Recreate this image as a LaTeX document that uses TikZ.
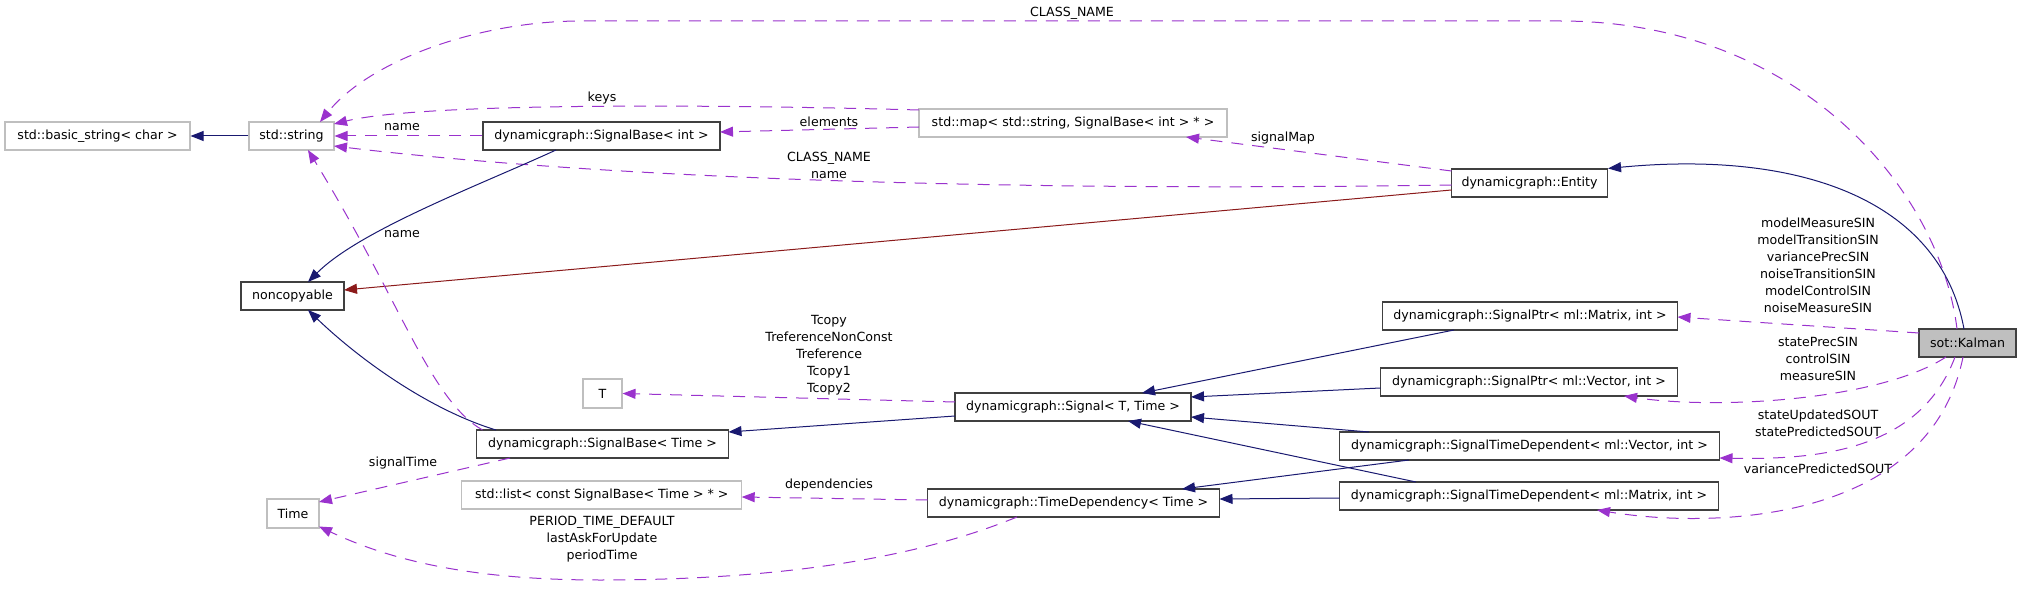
\documentclass[tikz,border=0pt]{standalone}
\usepackage{fontspec}
\setmainfont{DejaVu Sans}
\usetikzlibrary{arrows.meta,calc}
\definecolor{eblue}{HTML}{191970}
\definecolor{ered}{HTML}{8B1A1A}
\definecolor{epurp}{HTML}{9A32CD}
\definecolor{ugray}{HTML}{BFBFBF}
\definecolor{bdark}{HTML}{404040}
\begin{document}
\begin{tikzpicture}[x=1pt,y=-1pt,
  box/.style={draw=bdark,line width=1.1pt,minimum height=28pt,inner sep=0pt,font=\fontsize{12.6}{17}\selectfont},
  ubox/.style={box,draw=ugray},
  lbl/.style={font=\fontsize{12.6}{17}\selectfont,align=center,inner sep=0pt},
  tip/.style={-{Triangle[length=13pt,width=10pt]}},
  inh/.style={draw=eblue,line width=1pt,tip},
  priv/.style={draw=ered,line width=1pt,tip},
  use/.style={draw=epurp,line width=1pt,dash pattern=on 12pt off 9pt,tip}]
\useasboundingbox (0,0) rectangle (2021,609);
% nodes
\node[ubox,minimum width=185pt] (bstr) at (97.5,136) {std::basic\_string< char >};
\node[ubox,minimum width=85pt] (str) at (291.5,136) {std::string};
\node[box,minimum width=237pt] (sbi) at (601.5,136) {dynamicgraph::SignalBase< int >};
\node[ubox,minimum width=308pt] (map) at (1073,123) {std::map< std::string, SignalBase< int > * >};
\node[box,minimum width=156pt] (ent) at (1529.5,183) {dynamicgraph::Entity};
\node[box,minimum width=103pt] (nonc) at (292.5,296) {noncopyable};
\node[ubox,minimum width=39pt,minimum height=29pt] (T) at (602.5,393.5) {T};
\node[box,minimum width=252pt] (sbt) at (602.5,444) {dynamicgraph::SignalBase< Time >};
\node[box,minimum width=236pt] (sig) at (1073,407) {dynamicgraph::Signal< T, Time >};
\node[box,minimum width=295pt] (spm) at (1530,316) {dynamicgraph::SignalPtr< ml::Matrix, int >};
\node[box,minimum width=297pt] (spv) at (1529,382) {dynamicgraph::SignalPtr< ml::Vector, int >};
\node[box,minimum width=380pt] (stdv) at (1529.5,446) {dynamicgraph::SignalTimeDependent< ml::Vector, int >};
\node[box,minimum width=379pt] (stdm) at (1529,496) {dynamicgraph::SignalTimeDependent< ml::Matrix, int >};
\node[ubox,minimum width=280pt] (list) at (601.7,495) {std::list< const SignalBase< Time > * >};
\node[ubox,minimum width=52pt,minimum height=29pt] (time) at (293,513.5) {Time};
\node[box,minimum width=292pt] (td) at (1073.5,503) {dynamicgraph::TimeDependency< Time >};
\node[box,minimum width=97pt,fill=ugray] (kal) at (1967.5,343) {sot::Kalman};
% edges
\draw[inh] (str.west) -- (bstr.east);
\draw[use] ($(kal)+(-10.5,-14)$) .. controls (1940,190) and (1800,21) .. (1560,21) -- (581,21) .. controls (480,21) and (370,60) .. ($(str)+(28.5,-14)$);
\node[lbl] (l1) at (1072,13) {CLASS\_NAME};
\draw[use] (sbi.west) -- (str.east);
\node[lbl] (l2) at (402,127) {name};
\draw[use] ($(map)+(-154,-13)$) .. controls (700,104) and (420,103) .. ($(str)+(42.5,-12)$);
\node[lbl] (l3) at (602,98) {keys};
\draw[use] ($(map)+(-154,4)$) -- ($(sbi)+(118.5,-4)$);
\node[lbl] (l4) at (829,122) {elements};
\draw[use] ($(ent)+(-78,2)$) .. controls (1000,192) and (600,178) .. ($(str)+(42.5,10)$);
\node[lbl] (l5) at (829,165.5) {CLASS\_NAME\\name};
\draw[use] ($(ent)+(-78,-12)$) -- ($(map)+(113,14)$);
\node[lbl] (l6) at (1283,138) {signalMap};
\draw[priv] ($(ent)+(-78,7)$) -- ($(nonc)+(51.5,-6)$);
\draw[inh] ($(sbi)+(-45.5,14)$) .. controls (480,185) and (360,230) .. ($(nonc)+(15.5,-14)$);
\draw[inh] ($(sbt)+(-106.5,-14)$) .. controls (430,410) and (360,360) .. ($(nonc)+(15.5,14)$);
\draw[use] ($(sbt)+(-120,-14)$) .. controls (430,400) and (400,300) .. ($(str)+(16.5,14)$);
\node[lbl] (l7) at (402,234) {name};
\draw[use] ($(sbt)+(-92.5,14)$) -- ($(time)+(26,-11.5)$);
\node[lbl] (l8) at (403,463) {signalTime};
\draw[use] ($(td)+(-56.5,14)$) .. controls (900,565) and (750,580) .. (600,580) .. controls (470,580) and (390,560) .. ($(time)+(26,13)$);
\node[lbl] (l9) at (602,539) {PERIOD\_TIME\_DEFAULT\\lastAskForUpdate\\periodTime};
\draw[use] ($(td)+(-146,-3)$) -- ($(list)+(140,2)$);
\node[lbl] (l10) at (829,485) {dependencies};
\draw[use] ($(sig)+(-118,-5)$) -- (T.east);
\node[lbl] (l11) at (829,355) {Tcopy\\TreferenceNonConst\\Treference\\Tcopy1\\Tcopy2};
\draw[inh] ($(sig)+(-118,9)$) -- ($(sbt)+(126,-12)$);
\draw[inh] ($(spm)+(-76,14)$) -- ($(sig)+(69,-14)$);
\draw[inh] ($(spv)+(-148.5,6)$) -- ($(sig)+(118,-10)$);
\draw[inh] ($(stdv)+(-160.5,-14)$) -- ($(sig)+(118,10)$);
\draw[inh] ($(stdv)+(-120.5,14)$) -- ($(td)+(108.5,-14)$);
\draw[inh] ($(stdm)+(-113,-14)$) -- ($(sig)+(55,14)$);
\draw[inh] ($(stdm)+(-189.5,2)$) -- ($(td)+(146,-4)$);
\draw[inh] ($(kal)+(-3.5,-14)$) .. controls (1940,200) and (1800,150) .. (ent.north east);
\draw[use] ($(kal)+(-48.5,-10)$) -- ($(spm)+(147.5,1)$);
\node[lbl] (l12) at (1818,265.5) {modelMeasureSIN\\modelTransitionSIN\\variancePrecSIN\\noiseTransitionSIN\\modelControlSIN\\noiseMeasureSIN};
\draw[use] ($(kal)+(-21.5,14)$) .. controls (1880,400) and (1720,410) .. ($(spv)+(95,14)$);
\node[lbl] (l13) at (1818,359) {statePrecSIN\\controlSIN\\measureSIN};
\draw[use] ($(kal)+(-12.5,14)$) .. controls (1920,450) and (1820,460) .. ($(stdv)+(190,12)$);
\node[lbl] (l14) at (1818,423.5) {stateUpdatedSOUT\\statePredictedSOUT};
\draw[use] ($(kal)+(-4.5,14)$) .. controls (1930,520) and (1720,530) .. ($(stdm)+(68,14)$);
\node[lbl] (l15) at (1818,469) {variancePredictedSOUT};
\end{tikzpicture}
\end{document}
